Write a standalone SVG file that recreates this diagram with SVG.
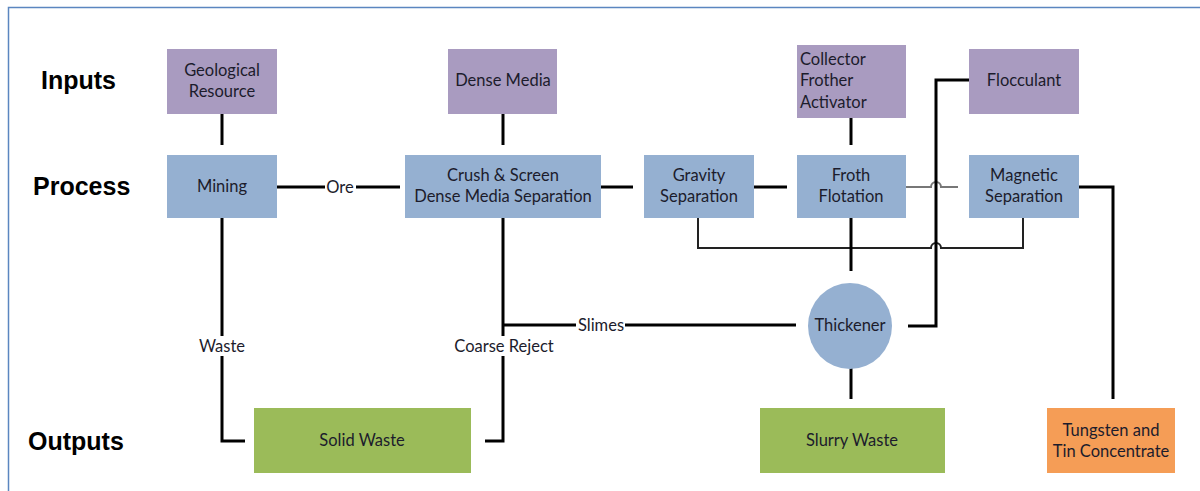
<svg xmlns="http://www.w3.org/2000/svg" width="1200" height="491" viewBox="0 0 1200 491">
<style>
.in{fill:#A99BC0}
.pr{fill:#95B0D1}
.out{fill:#9BBB59}
.con{fill:#F59D56}
text{font-family:Lato,"Liberation Sans",sans-serif;font-size:16.5px;fill:#1c1c2c}
.c{text-anchor:middle}
.h{font-family:"Liberation Sans",Arial,sans-serif;font-size:25px;font-weight:bold;fill:#000}
.k{stroke:#000;stroke-width:3;fill:none}
.t{stroke:#222;stroke-width:2;fill:none}
.g{stroke:#777;stroke-width:2;fill:none}
</style>
<rect x="0" y="0" width="1200" height="491" fill="#fff"/>
<path d="M8.5 491 V7.5 H1200" fill="none" stroke="#5B86C0" stroke-width="1.5"/>
<g id="row-labels">
<text class="h" x="41" y="89">Inputs</text>
<text class="h" x="33" y="195">Process</text>
<text class="h" x="28" y="450">Outputs</text>
</g>
<g id="connectors">
<path class="k" d="M222 113 V145"/>
<path class="k" d="M503 113 V145"/>
<path class="k" d="M851 117 V145"/>
<path class="k" d="M275 187 H325 M356 187 H400"/>
<path class="k" d="M599 187 H633"/>
<path class="k" d="M752 187 H787"/>
<path class="g" d="M905 187 H931 a5 5 0 0 1 10 0 H958"/>
<path class="t" d="M698 218 V248 H931 a5 5 0 0 1 10 0 H1023 V218"/>
<path class="k" d="M851 218 V271"/>
<path class="k" d="M971 80 H936 V326 H908"/>
<path class="k" d="M1077 187 H1113 V399"/>
<path class="k" d="M503 218 V336 M503 356 V441 H485"/>
<path class="k" d="M503 325 H576 M625 325 H796"/>
<path class="k" d="M222 218 V336 M222 356 V441 H245"/>
<path class="k" d="M851 368 V399"/>
<text class="c" x="340" y="193">Ore</text>
<text class="c" x="601" y="331">Slimes</text>
<text class="c" x="222" y="352">Waste</text>
<text class="c" x="504" y="352">Coarse Reject</text>
</g>
<g id="geological-resource"><rect class="in" x="167" y="49" width="110" height="65"/><text class="c" x="222" y="76">Geological</text><text class="c" x="222" y="97">Resource</text></g>
<g id="dense-media"><rect class="in" x="448" y="49" width="109" height="65"/><text class="c" x="503" y="86">Dense Media</text></g>
<g id="collector"><rect class="in" x="797" y="45" width="109" height="73"/><text x="800" y="65">Collector</text><text x="800" y="86">Frother</text><text x="800" y="108">Activator</text></g>
<g id="flocculant"><rect class="in" x="969" y="49" width="110" height="65"/><text class="c" x="1024" y="86">Flocculant</text></g>
<g id="mining"><rect class="pr" x="167" y="155" width="110" height="63"/><text class="c" x="222" y="192">Mining</text></g>
<g id="crush"><rect class="pr" x="405" y="155" width="196" height="63"/><text class="c" x="503" y="181">Crush &amp; Screen</text><text class="c" x="503" y="202">Dense Media Separation</text></g>
<g id="gravity"><rect class="pr" x="644" y="155" width="110" height="63"/><text class="c" x="699" y="181">Gravity</text><text class="c" x="699" y="202">Separation</text></g>
<g id="froth"><rect class="pr" x="797" y="155" width="109" height="63"/><text class="c" x="851" y="181">Froth</text><text class="c" x="851" y="202">Flotation</text></g>
<g id="magnetic"><rect class="pr" x="969" y="155" width="110" height="63"/><text class="c" x="1024" y="181">Magnetic</text><text class="c" x="1024" y="202">Separation</text></g>
<g id="thickener"><ellipse class="pr" cx="850" cy="326" rx="42" ry="43"/><text class="c" x="850" y="331">Thickener</text></g>
<g id="solid-waste"><rect class="out" x="254" y="408" width="217" height="65"/><text class="c" x="362" y="446">Solid Waste</text></g>
<g id="slurry-waste"><rect class="out" x="760" y="408" width="185" height="65"/><text class="c" x="852" y="446">Slurry Waste</text></g>
<g id="concentrate"><rect class="con" x="1047" y="408" width="128" height="65"/><text class="c" x="1111" y="436">Tungsten and</text><text class="c" x="1111" y="457">Tin Concentrate</text></g>
</svg>
